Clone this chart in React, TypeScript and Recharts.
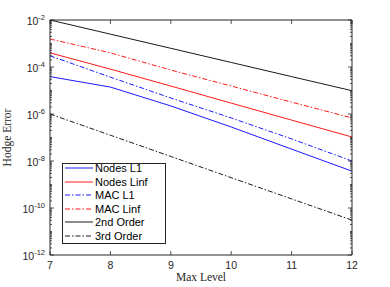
import { LineChart, Line, XAxis, YAxis, Legend } from "recharts";

// Max level on the x axis
const LEVELS = [7, 8, 9, 10, 11, 12];

// Hodge error per level
const NODES_L1 = [3.9e-5, 1.4e-5, 2.2e-6, 2.8e-7, 3.2e-8, 3.7e-9];
const NODES_LINF = [4.0e-4, 8.1e-5, 1.55e-5, 2.9e-6, 5.5e-7, 1.05e-7];
const MAC_L1 = [3.0e-4, 3.7e-5, 4.8e-6, 6.8e-7, 8.7e-8, 1.0e-8];
const MAC_LINF = [1.55e-3, 4.0e-4, 7.4e-5, 1.55e-5, 3.2e-6, 6.8e-7];
const SECOND_ORDER = [1e-2, 2.5e-3, 6.25e-4, 1.5625e-4, 3.9e-5, 9.8e-6];
const THIRD_ORDER = [1e-6, 1.25e-7, 1.56e-8, 1.95e-9, 2.44e-10, 3.05e-11];

const Y_LABEL_TICKS = [1e-12, 1e-10, 1e-8, 1e-6, 1e-4, 1e-2];
const Y_DECADES = [1e-12, 1e-11, 1e-10, 1e-9, 1e-8, 1e-7, 1e-6, 1e-5, 1e-4, 1e-3];
const Y_ALL_TICKS = [
  ...Y_DECADES.flatMap((d) => [1, 2, 3, 4, 5, 6, 7, 8, 9].map((k) => k * d)),
  1e-2,
];
const isLabelTick = (v: number) => Y_LABEL_TICKS.some((t) => Math.abs(Math.log10(v) - Math.log10(t)) < 1e-6);

const Y_DOMAIN: [number, number] = [1e-12, 1e-2];
const X_DOMAIN: [number, number] = [7, 12];

const FRAME = "#262626";
const SANS = "'Liberation Sans', Arial, Helvetica, sans-serif";
const SERIF = "'Liberation Serif', 'Times New Roman', serif";
const DASH_DOT = "5 2 1.5 2";
const MAJOR = 4;
const MINOR = 2;

const SERIES = [
  { key: "nodesL1", name: "Nodes L1", values: NODES_L1, color: "#0000ff", dash: undefined },
  { key: "nodesLinf", name: "Nodes Linf", values: NODES_LINF, color: "#ff0000", dash: undefined },
  { key: "macL1", name: "MAC L1", values: MAC_L1, color: "#0000ff", dash: DASH_DOT },
  { key: "macLinf", name: "MAC Linf", values: MAC_LINF, color: "#ff0000", dash: DASH_DOT },
  { key: "second", name: "2nd Order", values: SECOND_ORDER, color: "#000000", dash: undefined },
  { key: "third", name: "3rd Order", values: THIRD_ORDER, color: "#000000", dash: DASH_DOT },
];

const data = LEVELS.map((level, i) => {
  const row: Record<string, number> = { level };
  SERIES.forEach((s) => {
    row[s.key] = s.values[i];
  });
  return row;
});

// left axis: inward mark + 10^n label on labelled decades
function LeftTick(props: any) {
  const { x, y, payload } = props;
  const axisX = x + 5;
  const major = isLabelTick(payload.value);
  const exp = Math.round(Math.log10(payload.value));
  return (
    <g>
      <line x1={axisX} x2={axisX + (major ? MAJOR : MINOR)} y1={y} y2={y} stroke={FRAME} strokeWidth={0.8} />
      {major && (
        <text x={x} y={y} textAnchor="end" fontFamily={SANS} fill={FRAME}>
          <tspan dy={5} fontSize={10.5}>10</tspan>
          <tspan dy={-5} fontSize={7.5}>{exp}</tspan>
        </text>
      )}
    </g>
  );
}

function RightTick(props: any) {
  const { x, y, payload } = props;
  const major = isLabelTick(payload.value);
  return <line x1={x} x2={x - (major ? MAJOR : MINOR)} y1={y} y2={y} stroke={FRAME} strokeWidth={0.8} />;
}

function BottomTick(props: any) {
  const { x, y, payload } = props;
  return (
    <g>
      <line x1={x} x2={x} y1={y} y2={y - MAJOR} stroke={FRAME} strokeWidth={0.8} />
      <text x={x} y={y} dy={14} textAnchor="middle" fontFamily={SANS} fontSize={10.5} fill={FRAME}>
        {payload.value}
      </text>
    </g>
  );
}

function TopTick(props: any) {
  const { x, y } = props;
  return <line x1={x} x2={x} y1={y} y2={y + MAJOR} stroke={FRAME} strokeWidth={0.8} />;
}

function LegendBox() {
  return (
    <div
      style={{
        position: "relative",
        width: 102,
        height: 79,
        border: `1px solid ${FRAME}`,
        background: "#fff",
        fontFamily: SANS,
        fontSize: 11,
        color: "#000",
      }}
    >
      {SERIES.map((s, i) => (
        <div
          key={s.key}
          style={{
            position: "absolute",
            left: 2,
            top: 4 + i * 13.55 - 7,
            height: 14,
            display: "flex",
            alignItems: "center",
            whiteSpace: "nowrap",
          }}
        >
          <svg width={28} height={14} style={{ marginRight: 2 }}>
            <line x1={0} x2={28} y1={7} y2={7} stroke={s.color} strokeWidth={0.9} strokeDasharray={s.dash} />
          </svg>
          <span style={{ lineHeight: "14px" }}>{s.name}</span>
        </div>
      ))}
    </div>
  );
}

export default function App() {
  return (
    <div style={{ position: "absolute", left: 0, top: 0, width: 390, height: 287, background: "#fff" }}>
      <LineChart width={390} height={287} data={data} margin={{ top: 0, right: 0, bottom: 0, left: 0 }}>
        <XAxis
          xAxisId="x"
          dataKey="level"
          type="number"
          domain={X_DOMAIN}
          allowDataOverflow
          ticks={LEVELS}
          interval={0}
          height={32}
          tickLine={false}
          tickSize={0}
          tickMargin={0}
          tick={<BottomTick />}
          axisLine={{ stroke: FRAME }}
          label={{
            content: (p: any) => {
              const vb = p.viewBox;
              return (
                <text x={vb.x + vb.width / 2} y={281} textAnchor="middle" fontFamily={SERIF} fontSize={11.5} fill={FRAME}>
                  Max Level
                </text>
              );
            },
          }}
        />
        <XAxis
          xAxisId="xt"
          orientation="top"
          dataKey="level"
          type="number"
          domain={X_DOMAIN}
          allowDataOverflow
          ticks={LEVELS}
          interval={0}
          height={20}
          tickLine={false}
          tickSize={0}
          tickMargin={0}
          tick={<TopTick />}
          axisLine={{ stroke: FRAME }}
        />
        <YAxis
          yAxisId="y"
          type="number"
          scale="log"
          domain={Y_DOMAIN}
          allowDataOverflow
          ticks={Y_ALL_TICKS}
          interval={0}
          width={50}
          tickLine={false}
          tickSize={0}
          tickMargin={5}
          tick={<LeftTick />}
          axisLine={{ stroke: FRAME }}
          label={{
            content: (p: any) => {
              const vb = p.viewBox;
              const cy = vb.y + vb.height / 2;
              return (
                <text
                  x={11}
                  y={cy}
                  transform={`rotate(-90, 11, ${cy})`}
                  textAnchor="middle"
                  fontFamily={SERIF}
                  fontSize={11.5}
                  fill={FRAME}
                >
                  Hodge Error
                </text>
              );
            },
          }}
        />
        <YAxis
          yAxisId="yr"
          orientation="right"
          type="number"
          scale="log"
          domain={Y_DOMAIN}
          allowDataOverflow
          ticks={Y_ALL_TICKS}
          interval={0}
          width={38}
          tickLine={false}
          tickSize={0}
          tickMargin={0}
          tick={<RightTick />}
          axisLine={{ stroke: FRAME }}
        />

        <Legend
          layout="vertical"
          align="center"
          verticalAlign="middle"
          wrapperStyle={{ left: 62, top: 163, width: "auto" }}
          content={() => <LegendBox />}
        />

        {SERIES.map((s) => (
          <Line
            key={s.key}
            xAxisId="x"
            yAxisId="y"
            dataKey={s.key}
            name={s.name}
            type="linear"
            stroke={s.color}
            strokeWidth={0.9}
            strokeDasharray={s.dash}
            dot={false}
            activeDot={false}
            isAnimationActive={false}
          />
        ))}
        {/* invisible copy so the top and right frame axes get a scale */}
        <Line
          xAxisId="xt"
          yAxisId="yr"
          dataKey="second"
          stroke="none"
          dot={false}
          activeDot={false}
          legendType="none"
          isAnimationActive={false}
        />
      </LineChart>
    </div>
  );
}
